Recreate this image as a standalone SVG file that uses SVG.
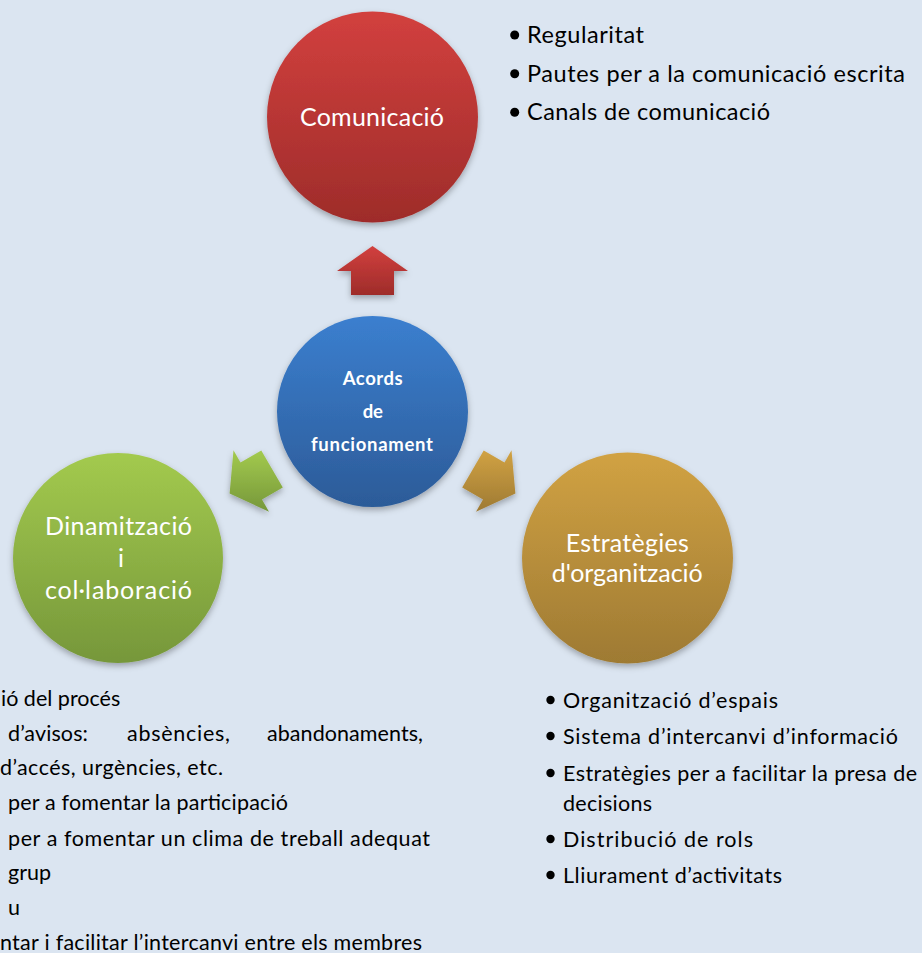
<svg xmlns="http://www.w3.org/2000/svg" width="922" height="953" viewBox="0 0 922 953">
<defs>
<linearGradient id="gRed" x1="0" y1="0" x2="0" y2="1"><stop offset="0" stop-color="#d2403e"/><stop offset="1" stop-color="#9e2c2a"/></linearGradient>
<linearGradient id="gBlue" x1="0" y1="0" x2="0" y2="1"><stop offset="0" stop-color="#3b7fcf"/><stop offset="1" stop-color="#2c5b98"/></linearGradient>
<linearGradient id="gGreen" x1="0" y1="0" x2="0" y2="1"><stop offset="0" stop-color="#a3ca4e"/><stop offset="1" stop-color="#76973a"/></linearGradient>
<linearGradient id="gOrange" x1="0" y1="0" x2="0" y2="1"><stop offset="0" stop-color="#d1a243"/><stop offset="1" stop-color="#9e7a33"/></linearGradient>
<filter id="sh" x="-20%" y="-20%" width="140%" height="150%"><feDropShadow dx="0" dy="3" stdDeviation="3" flood-color="#000" flood-opacity="0.3"/></filter>
</defs>
<style>
.lbl{font-family:Lato,"Open Sans",sans-serif;fill:#fff;text-anchor:middle}
.big{font-size:25px}
.ctr{font-size:18.5px;font-weight:bold}
.lst{font-family:Lato,"Open Sans",sans-serif;fill:#000}
.l1{font-size:23.5px}
.l2{font-size:21.5px}
.bul{fill:#000}
</style>
<rect width="922" height="953" fill="#dbe5f1"/>

<g id="connectors" filter="url(#sh)">
<polygon points="372.5,246 408,271 394,271 394,295 351,295 351,271 337,271" fill="url(#gRed)"/>
<polygon points="515.4,493.5 476,511.7 483,499.6 462.2,487.6 483.7,450.4 504.5,462.4 511.5,450.3" fill="url(#gOrange)"/>
<polygon points="229.6,493.5 233.5,450.3 240.5,462.4 261.3,450.4 282.8,487.6 262,499.6 269,511.7" fill="url(#gGreen)"/>
</g>

<g id="comunicacio">
<circle cx="372.5" cy="117" r="105.5" fill="url(#gRed)" filter="url(#sh)"/>
<text class="lbl big" x="372" y="126" textLength="144">Comunicació</text>
</g>

<g id="acords">
<circle cx="372.5" cy="411.5" r="95.5" fill="url(#gBlue)" filter="url(#sh)"/>
<text class="lbl ctr" x="372.7" y="385" textLength="60">Acords</text>
<text class="lbl ctr" x="372.8" y="418" textLength="20">de</text>
<text class="lbl ctr" x="372" y="451" textLength="122">funcionament</text>
</g>

<g id="dinamitzacio">
<circle cx="118" cy="558" r="105" fill="url(#gGreen)" filter="url(#sh)"/>
<text class="lbl big" x="118.5" y="535" textLength="147">Dinamització</text>
<text class="lbl big" x="121" y="567">i</text>
<text class="lbl big" x="118.5" y="599" textLength="147">col·laboració</text>
</g>

<g id="estrategies">
<circle cx="627.5" cy="558" r="105.5" fill="url(#gOrange)" filter="url(#sh)"/>
<text class="lbl big" x="627.3" y="552" textLength="123">Estratègies</text>
<text class="lbl big" x="627.2" y="582" textLength="151">d'organització</text>
</g>

<g id="llista-comunicacio" class="lst l1">
<circle class="bul" cx="514.7" cy="35" r="4.5"/>
<circle class="bul" cx="514.7" cy="73.7" r="4.5"/>
<circle class="bul" cx="514.7" cy="112.3" r="4.5"/>
<text x="527" y="43" textLength="117">Regularitat</text>
<text x="527" y="81.7" textLength="378">Pautes per a la comunicació escrita</text>
<text x="527" y="120" textLength="243">Canals de comunicació</text>
</g>

<g id="llista-estrategies" class="lst l2">
<circle class="bul" cx="550.5" cy="700" r="4.2"/>
<circle class="bul" cx="550.5" cy="736" r="4.2"/>
<circle class="bul" cx="550.5" cy="773" r="4.2"/>
<circle class="bul" cx="550.5" cy="839" r="4.2"/>
<circle class="bul" cx="550.5" cy="875" r="4.2"/>
<text x="563" y="708" textLength="215">Organització d’espais</text>
<text x="563" y="744" textLength="335">Sistema d’intercanvi d’informació</text>
<text x="563" y="781" textLength="354">Estratègies per a facilitar la presa de</text>
<text x="563" y="811" textLength="89">decisions</text>
<text x="563" y="847" textLength="190">Distribució de rols</text>
<text x="563" y="883" textLength="219">Lliurament d’activitats</text>
</g>

<g id="llista-dinamitzacio" class="lst l2">
<text x="1" y="706">ió del procés</text>
<text x="8" y="741" textLength="80">d’avisos:</text>
<text x="127" y="741" textLength="103">absències,</text>
<text x="267" y="741" textLength="156">abandonaments,</text>
<text x="0" y="775" textLength="223">d’accés, urgències, etc.</text>
<text x="8" y="810" textLength="280">per a fomentar la participació</text>
<text x="8" y="846" textLength="422">per a fomentar un clima de treball adequat</text>
<text x="8" y="880">grup</text>
<text x="8" y="915">u</text>
<text x="0" y="950" textLength="422">ntar i facilitar l’intercanvi entre els membres</text>
</g>
</svg>
